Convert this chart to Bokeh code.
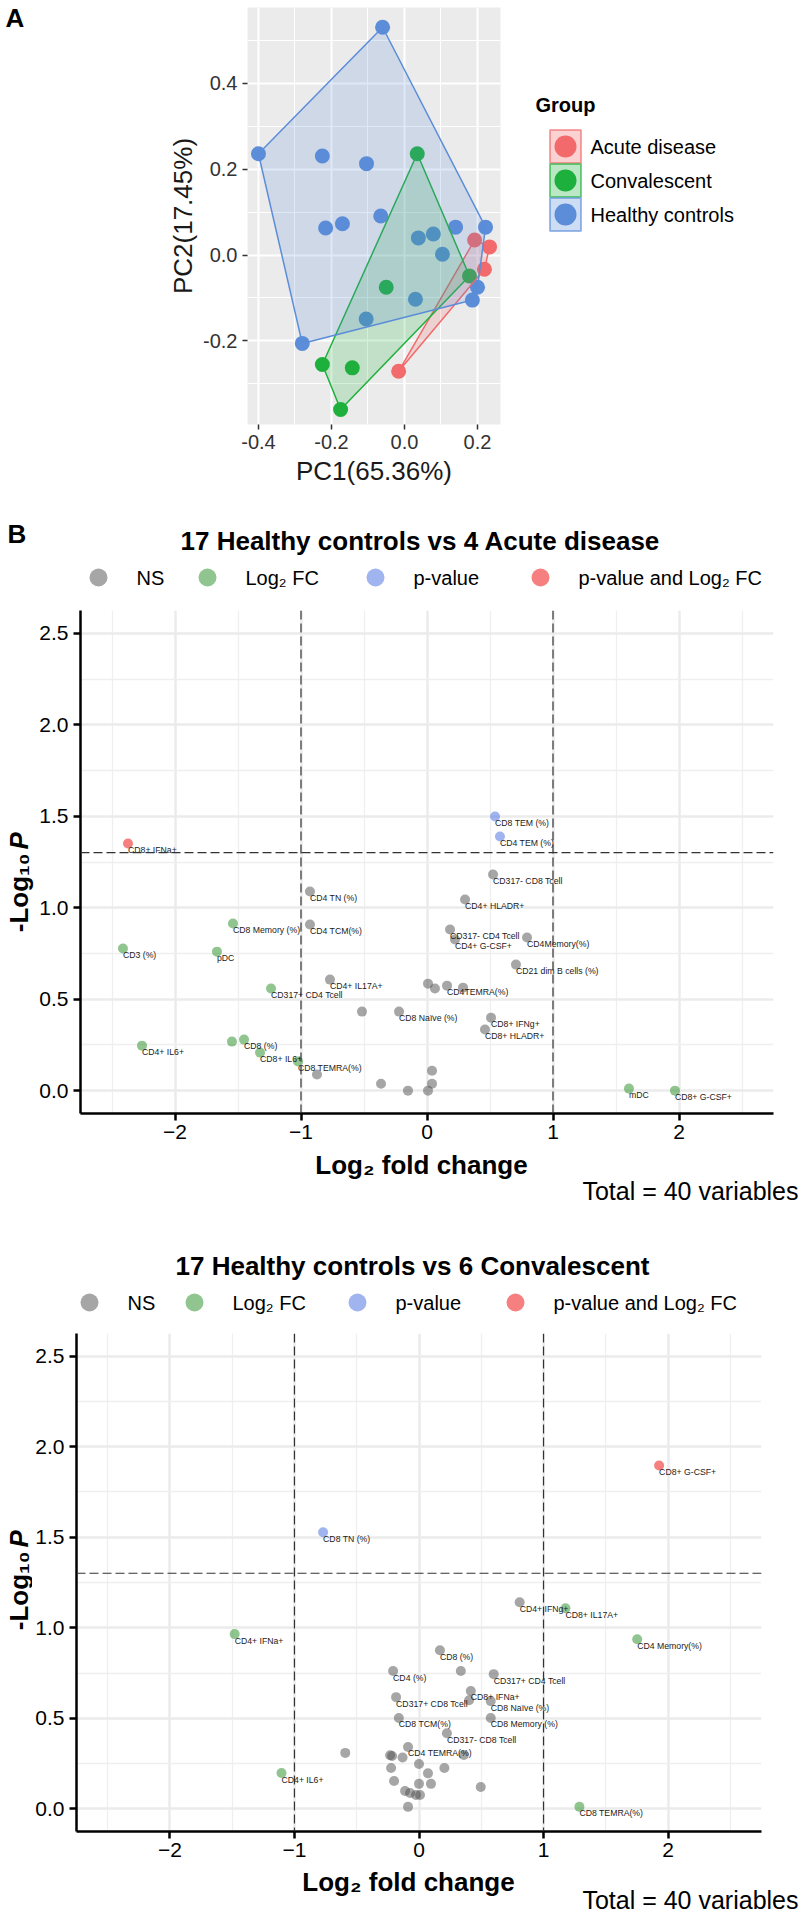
import math
from bokeh.plotting import figure
from bokeh.models import Range1d, FixedTicker, PrintfTickFormatter, Span
from bokeh.layouts import column, row
from bokeh.embed import file_html
from bokeh.resources import INLINE
from bokeh.core.properties import value

FONT = "Liberation Sans"

# ---------------- Panel A : PCA ----------------
group_names = ["Acute disease", "Convalescent", "Healthy controls"]
group_colors = ["#F26A6B", "#1EB03C", "#5B8DD9"]
acute_pc1 = [0.192, 0.233, 0.219, -0.016]
acute_pc2 = [0.035, 0.019, -0.033, -0.271]
conv_pc1 = [0.035, -0.050, 0.178, -0.225, -0.143, -0.175]
conv_pc2 = [0.236, -0.075, -0.049, -0.255, -0.263, -0.360]
hc_pc1 = [-0.400, -0.060, -0.225, -0.104, -0.216, -0.170, -0.065, -0.105, -0.280,
          0.038, 0.079, 0.140, 0.222, 0.104, 0.030, 0.200, 0.186]
hc_pc2 = [0.236, 0.531, 0.231, 0.213, 0.063, 0.073, 0.091, -0.149, -0.206,
          0.040, 0.049, 0.065, 0.065, 0.002, -0.103, -0.075, -0.105]
pc_x_ticks = [-0.4, -0.2, 0.0, 0.2]
pc_y_ticks = [-0.4, -0.2, 0.0, 0.2, 0.4]
pc_x_label = "PC1(65.36%)"
pc_y_label = "PC2(17.45%)"
legend_title = "Group"

# ---------------- Panel B : volcano plots ----------------
fc_cutoff = 1.0
p_cutoff = 0.05
volcano_cats = ["NS", "Log₂ FC", "p-value", "p-value and Log₂ FC"]
volcano_colors = ["#4D4D4D", "#228B22", "#4169E1", "#EE0000"]
vx_ticks = [-2, -1, 0, 1, 2]
vy_ticks = [0.0, 0.5, 1.0, 1.5, 2.0, 2.5]
total_text = "Total = 40 variables"
x_title = "Log₂ fold change"

v1_title = "17 Healthy controls vs 4 Acute disease"
v1_labels = ["CD8+ IFNa+", "CD8 TEM (%)", "CD4 TEM (%)", "CD3 (%)", "pDC", "CD8 Memory (%)",
             "CD317+ CD4 Tcell", "CD4+ IL6+", "", "CD8 (%)", "CD8+ IL6+", "CD8 TEMRA(%)", "mDC",
             "CD8+ G-CSF+", "CD4 TN (%)", "CD4 TCM(%)", "CD4+ IL17A+", "CD317- CD8 Tcell",
             "CD4+ HLADR+", "CD317- CD4 Tcell", "CD4+ G-CSF+", "CD4Memory(%)",
             "CD21 dim B cells (%)", "", "", "CD4TEMRA(%)", "", "", "CD8 Naïve (%)", "CD8+ IFNg+",
             "CD8+ HLADR+", "", "", "", "", "", ""]
v1_log2fc = [-2.373, 0.540, 0.579, -2.413, -1.667, -1.540, -1.238, -2.262, -1.548, -1.452,
             -1.325, -1.024, 1.603, 1.968, -0.929, -0.929, -0.770, 0.524, 0.302, 0.183, 0.222,
             0.794, 0.706, 0.008, 0.063, 0.159, 0.286, -0.516, -0.222, 0.508, 0.460, -0.873,
             -0.365, -0.151, 0.008, 0.040, 0.040]
v1_mlog10p = [1.351, 1.499, 1.389, 0.777, 0.760, 0.914, 0.558, 0.246, 0.268, 0.279, 0.208,
              0.159, 0.011, 0.000, 1.089, 0.908, 0.607, 1.182, 1.045, 0.881, 0.826, 0.837,
              0.689, 0.585, 0.558, 0.574, 0.563, 0.432, 0.432, 0.399, 0.334, 0.088, 0.038,
              0.000, 0.000, 0.109, 0.038]

v2_title = "17 Healthy controls vs 6 Convalescent"
v2_labels = ["CD8+ G-CSF+", "CD8 TN (%)", "CD8+ IL17A+", "CD4 Memory(%)", "CD4+ IFNa+",
             "CD4+ IL6+", "CD8 TEMRA(%)", "CD4+ IFNg+", "CD8 (%)", "", "CD4 (%)",
             "CD317+ CD4 Tcell", "CD8+ IFNa+", "", "CD8 Naïve (%)", "CD317+ CD8 Tcell",
             "CD8 TCM(%)", "CD8 Memory (%)", "CD317- CD8 Tcell", "CD4 TEMRA(%)",
             "", "", "", "", "", "", "", "", "", "", "", "", "", "", "", "", "", ""]
v2_log2fc = [1.928, -0.770, 1.176, 1.752, -1.480, -1.104, 1.288, 0.808, 0.168, 0.336,
             -0.208, 0.600, 0.416, 0.402, 0.576, -0.184, -0.162, 0.576, 0.224, -0.088,
             0.360, -0.592, -0.216, -0.232, -0.132, 0.000, 0.204, -0.224, 0.072, -0.200,
             0.000, 0.096, 0.496, -0.112, -0.072, -0.024, 0.008, -0.088]
v2_mlog10p = [1.896, 1.527, 1.108, 0.937, 0.965, 0.198, 0.011, 1.141, 0.876, 0.761,
              0.761, 0.744, 0.651, 0.600, 0.595, 0.617, 0.502, 0.502, 0.418, 0.342,
              0.298, 0.309, 0.292, 0.296, 0.284, 0.248, 0.226, 0.226, 0.196, 0.154,
              0.138, 0.138, 0.121, 0.099, 0.088, 0.077, 0.077, 0.011]

W = 800


def convex_hull(xs, ys):
    pts = sorted(set(zip(xs, ys)))
    if len(pts) < 3:
        return [p[0] for p in pts], [p[1] for p in pts]

    def cross(o, a, b):
        return (a[0] - o[0]) * (b[1] - o[1]) - (a[1] - o[1]) * (b[0] - o[0])

    lower, upper = [], []
    for p in pts:
        while len(lower) >= 2 and cross(lower[-2], lower[-1], p) <= 0:
            lower.pop()
        lower.append(p)
    for p in reversed(pts):
        while len(upper) >= 2 and cross(upper[-2], upper[-1], p) <= 0:
            upper.pop()
        upper.append(p)
    h = lower[:-1] + upper[:-1]
    return [p[0] for p in h], [p[1] for p in h]


def minor_of(ticks, lo, hi):
    step = ticks[1] - ticks[0]
    ext = [ticks[0] - step] + list(ticks)
    return [t + step / 2 for t in ext if lo <= t + step / 2 <= hi]


def canvas_fig(x0, y0, w, h, tb=0, bb=0):
    """Blank drawing area whose data units are page pixels (y grows downward).
    tb/bb: top/bottom borders, so that it lines up with plots in the same row."""
    f = figure(width=w, height=h, x_range=Range1d(x0, x0 + w),
               y_range=Range1d(y0 + h - bb, y0 + tb),
               x_axis_type=None, y_axis_type=None, min_border_left=0, min_border_right=0,
               min_border_top=tb, min_border_bottom=bb,
               output_backend="svg", toolbar_location=None)
    f.outline_line_color = None
    f.background_fill_color = "white"
    f.border_fill_color = "white"
    return f


def txt(f, x, y, text, size, style="normal", align="left", angle=0.0, color="black"):
    f.text(x=[x], y=[y], text=[text], text_font=value(FONT), text_font_size=value(size),
           text_font_style=style, text_align=align, text_baseline="middle", angle=angle,
           text_color=color)


# ================= Panel A =================
A_H = 500
A_LEFT_W = 150
PCA_W = 378
fl, fr, ft, fb = 247, 500, 7, 424  # page coords of the panel frame
xrA, yrA = (-0.43, 0.263), (-0.395, 0.577)

canA = canvas_fig(0, 0, A_LEFT_W, A_H, ft, A_H - fb)
txt(canA, 5, 17, "A", "26px", "bold")

pca = figure(width=PCA_W, height=A_H, x_range=Range1d(*xrA), y_range=Range1d(*yrA),
             min_border_left=fl - A_LEFT_W, min_border_right=A_LEFT_W + PCA_W - fr,
             min_border_top=ft, min_border_bottom=A_H - fb,
             output_backend="svg", toolbar_location=None)
pca.background_fill_color = "#EBEBEB"
pca.border_fill_color = "white"
pca.outline_line_color = None
pca.xaxis.ticker = FixedTicker(ticks=pc_x_ticks, minor_ticks=minor_of(pc_x_ticks, *xrA))
pca.yaxis.ticker = FixedTicker(ticks=pc_y_ticks, minor_ticks=minor_of(pc_y_ticks, *yrA))
for ax in (pca.xaxis[0], pca.yaxis[0]):
    ax.formatter = PrintfTickFormatter(format="%.1f")
    ax.axis_line_color = None
    ax.major_tick_line_color = "#333333"
    ax.major_tick_line_width = 1.5
    ax.major_tick_out = 5
    ax.major_tick_in = 0
    ax.minor_tick_line_color = None
    ax.major_label_text_font = FONT
    ax.major_label_text_font_size = "20px"
    ax.major_label_text_color = "#333333"
    ax.major_label_standoff = 5
    ax.axis_label_text_font = FONT
    ax.axis_label_text_font_size = "26px"
    ax.axis_label_text_font_style = "normal"
    ax.axis_label_text_color = "#1a1a1a"
pca.xaxis.axis_label = pc_x_label
pca.yaxis.axis_label = pc_y_label
pca.xaxis.axis_label_standoff = 4
pca.yaxis.axis_label_standoff = 2
pca.grid.grid_line_color = "white"
pca.grid.grid_line_width = 2
pca.grid.minor_grid_line_color = "white"
pca.grid.minor_grid_line_width = 1

groups = [(acute_pc1, acute_pc2), (conv_pc1, conv_pc2), (hc_pc1, hc_pc2)]
for (gx, gy), col in zip(groups, group_colors):
    pca.scatter(gx, gy, size=15, fill_color=col, line_color=None)
for (gx, gy), col in zip(groups, group_colors):
    hx, hy = convex_hull(gx, gy)
    pca.patch(hx, hy, fill_color=col, fill_alpha=0.2, line_color=col, line_width=1.5)

legA = canvas_fig(A_LEFT_W + PCA_W, 0, W - A_LEFT_W - PCA_W, A_H, ft, A_H - fb)
txt(legA, 535, 104, legend_title, "20px", "bold")
key_y = [146, 180, 214]
legA.rect(x=[565] * 3, y=key_y, width=31, height=33, fill_color=group_colors, fill_alpha=0.3,
          line_color=group_colors, line_alpha=0.6, line_width=2)
legA.scatter(x=[565] * 3, y=key_y, size=22, fill_color=group_colors, line_color=None)
legA.text(x=[590] * 3, y=key_y, text=group_names, text_font=value(FONT),
          text_font_size=value("20px"), text_baseline="middle", text_color="black")


# ================= Panel B =================
def category(fc, lp):
    sp = lp > -math.log10(p_cutoff)
    sf = abs(fc) > fc_cutoff
    return 3 if (sp and sf) else 2 if sp else 1 if sf else 0


def add_header(f, title, title_x, title_y, leg_y, circ_x):
    txt(f, title_x, title_y, title, "26px", "bold")
    f.scatter(x=circ_x, y=[leg_y] * 4, size=18, fill_color=volcano_colors, fill_alpha=0.5,
              line_color=None)
    f.text(x=[c + 38 for c in circ_x], y=[leg_y] * 4, text=volcano_cats, text_font=value(FONT),
           text_font_size=value("20px"), text_baseline="middle", text_color="black")


def volcano_row(top, h, ylab_w, fl, fr, ft, fb, fc, lp, labels, ylab_anchor):
    tb, bb = ft - top, top + h - fb
    # left strip with the y-axis title
    cy = canvas_fig(0, top, ylab_w, h, tb, bb)
    txt(cy, 18, ylab_anchor, "-Log₁₀", "26px", "bold", "right", math.pi / 2)
    txt(cy, 18, ylab_anchor - 4, "P", "26px", "bold italic", "left", math.pi / 2)

    xr, yr = (-2.75, 2.75), (-0.125, 2.625)
    v = figure(width=W - ylab_w, height=h, x_range=Range1d(*xr), y_range=Range1d(*yr),
               min_border_left=fl - ylab_w, min_border_right=W - fr,
               min_border_top=tb, min_border_bottom=bb,
               output_backend="svg", toolbar_location=None)
    v.background_fill_color = "white"
    v.border_fill_color = "white"
    v.outline_line_color = None
    v.xaxis.ticker = FixedTicker(ticks=vx_ticks, minor_ticks=minor_of(vx_ticks, *xr))
    v.yaxis.ticker = FixedTicker(ticks=vy_ticks, minor_ticks=minor_of(vy_ticks, *yr))
    v.yaxis.formatter = PrintfTickFormatter(format="%.1f")
    for ax in (v.xaxis[0], v.yaxis[0]):
        ax.axis_line_color = "black"
        ax.axis_line_width = 2.5
        ax.major_tick_line_color = "black"
        ax.major_tick_line_width = 2.5
        ax.major_tick_out = 7
        ax.major_tick_in = 0
        ax.minor_tick_line_color = None
        ax.major_label_text_font = FONT
        ax.major_label_text_font_size = "21px"
        ax.major_label_text_color = "black"
    v.yaxis.major_label_standoff = 5
    v.xaxis.major_label_standoff = 4
    v.grid.grid_line_color = "#EBEBEB"
    v.grid.grid_line_width = 2.5
    v.grid.minor_grid_line_color = "#EFEFEF"
    v.grid.minor_grid_line_width = 1.3

    cols = [volcano_colors[category(a, b)] for a, b in zip(fc, lp)]
    v.scatter(fc, lp, size=10, fill_color=cols, fill_alpha=0.5, line_color=None)
    v.text(fc, lp, text=labels, x_offset=0, y_offset=6.5, text_font=value(FONT),
           text_font_size=value("8.7px"), text_baseline="middle", text_align="left",
           text_color="#1a1a1a")
    for loc in (-fc_cutoff, fc_cutoff):
        v.add_layout(Span(location=loc, dimension="height", line_dash="9 4",
                          line_color="#333333", line_width=1.2))
    v.add_layout(Span(location=-math.log10(p_cutoff), dimension="width", line_dash="9 4",
                      line_color="#333333", line_width=1.2))
    return row(cy, v)


# header of first volcano (page y 500-595)
h1 = canvas_fig(0, 500, W, 95)
txt(h1, 7, 533, "B", "26px", "bold")
add_header(h1, v1_title, 180, 540, 577, [98, 207, 375, 540])

v1 = volcano_row(595, 553, 36, 78, 773, 610, 1113, v1_log2fc, v1_mlog10p, v1_labels, 853)

# x-title / total of first volcano + header of second (page y 1148-1318)
mid = canvas_fig(0, 1148, W, 170)
txt(mid, 421, 1164, x_title, "26px", "bold", "center")
txt(mid, 798, 1190, total_text, "25px", "normal", "right")
add_header(mid, v2_title, 175, 1265, 1302, [89, 194, 357, 515])

v2 = volcano_row(1318, 548, 32, 74, 761, 1333, 1831, v2_log2fc, v2_mlog10p, v2_labels, 1551)

bot = canvas_fig(0, 1866, W, 48)
txt(bot, 408, 1881, x_title, "26px", "bold", "center")
txt(bot, 798, 1899, total_text, "25px", "normal", "right")

layout = column(row(canA, pca, legA), h1, v1, mid, v2, bot)
open("out.html", "w").write(file_html(layout, INLINE))
